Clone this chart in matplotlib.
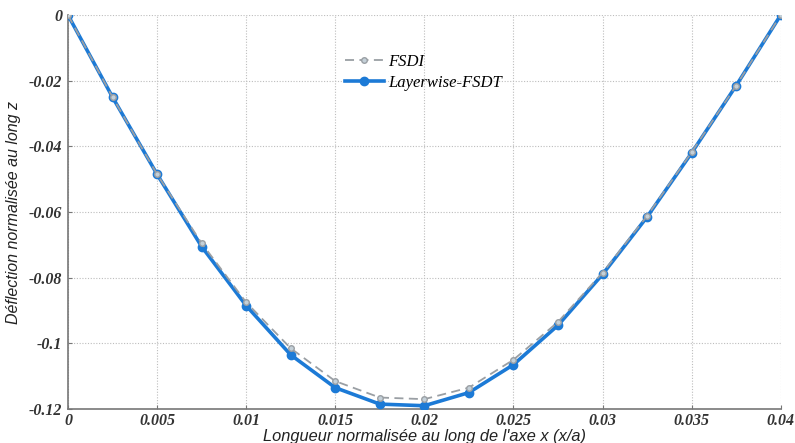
import numpy as np
import matplotlib
matplotlib.use("Agg")
import matplotlib.pyplot as plt

# Normalised position along x (x/a)
x_pos = [0.0, 0.0025, 0.005, 0.0075, 0.01, 0.0125, 0.015, 0.0175, 0.02,
         0.0225, 0.025, 0.0275, 0.03, 0.0325, 0.035, 0.0375, 0.04]

# Normalised deflection along z
w_fsdi = [0.0, -0.025, -0.0485, -0.0695, -0.0875, -0.1015, -0.1115, -0.1165, -0.117,
          -0.1135, -0.105, -0.0935, -0.0785, -0.0612, -0.0418, -0.0215, 0.0]
w_layerwise = [0.0, -0.025, -0.0485, -0.0705, -0.0885, -0.1035, -0.1135, -0.1185, -0.119,
               -0.115, -0.1065, -0.0945, -0.079, -0.0615, -0.042, -0.0215, 0.0]

x_ticks = [0, 0.005, 0.01, 0.015, 0.02, 0.025, 0.03, 0.035, 0.04]
x_tick_labels = ["0", "0.005", "0.01", "0.015", "0.02", "0.025", "0.03", "0.035", "0.04"]
y_ticks = [-0.12, -0.1, -0.08, -0.06, -0.04, -0.02, 0]
y_tick_labels = ["-0.12", "-0.1", "-0.08", "-0.06", "-0.04", "-0.02", "0"]

blue = "#1c7ad6"
grey = "#9a9fa4"

fig = plt.figure(figsize=(7.95, 4.43), dpi=100)
ax = fig.add_axes([0.0855, 0.0767, 0.8965, 0.8893])

ax.plot(x_pos, w_layerwise, color=blue, linewidth=2.6, marker="o", markersize=6,
        markerfacecolor=blue, markeredgecolor=blue, label="Layerwise-FSDT", zorder=3)
ax.plot(x_pos, w_fsdi, color=grey, linewidth=1.3, linestyle=(0, (5, 3)), marker="o",
        markersize=4, markerfacecolor="#c4d0d8", markeredgecolor=grey, label="FSDI", zorder=4)

ax.set_xlim(0, 0.04)
ax.set_ylim(-0.12, 0)
ax.set_xticks(x_ticks)
ax.set_xticklabels(x_tick_labels)
ax.set_yticks(y_ticks)
ax.set_yticklabels(y_tick_labels)

serif = {"family": "Liberation Serif", "style": "italic", "weight": "bold", "size": 11.5}
for lab in ax.get_xticklabels() + ax.get_yticklabels():
    lab.set_fontproperties(matplotlib.font_manager.FontProperties(**serif))
    lab.set_color("#333333")

ax.tick_params(direction="in", length=3, color="#777777", pad=4)
ax.tick_params(axis="x", pad=3)
ax.grid(True, color="#bdbdbd", linestyle=(0, (1, 1.5)), linewidth=0.8)
ax.set_axisbelow(True)

for side in ["top", "right"]:
    ax.spines[side].set_visible(False)
for side in ["left", "bottom"]:
    ax.spines[side].set_color("#777777")
    ax.spines[side].set_linewidth(1.2)

ax.set_xlabel("Longueur normalisée au long de l'axe x (x/a)", family="Liberation Sans",
              style="italic", fontsize=11.8, color="#222222")
ax.xaxis.set_label_coords(0.5, -0.05)
ax.set_ylabel("Déflection normalisée au long z", family="Liberation Sans",
              style="italic", fontsize=11.5, color="#222222", labelpad=6)

handles, labels = ax.get_legend_handles_labels()
leg = ax.legend(handles[::-1], labels[::-1], loc="upper left", bbox_to_anchor=(0.368, 0.94),
                frameon=False, handlelength=2.3, handletextpad=0.3, labelspacing=0.3,
                prop={"family": "Liberation Serif", "style": "italic", "size": 12})

fig.savefig("out.png", dpi=100)
